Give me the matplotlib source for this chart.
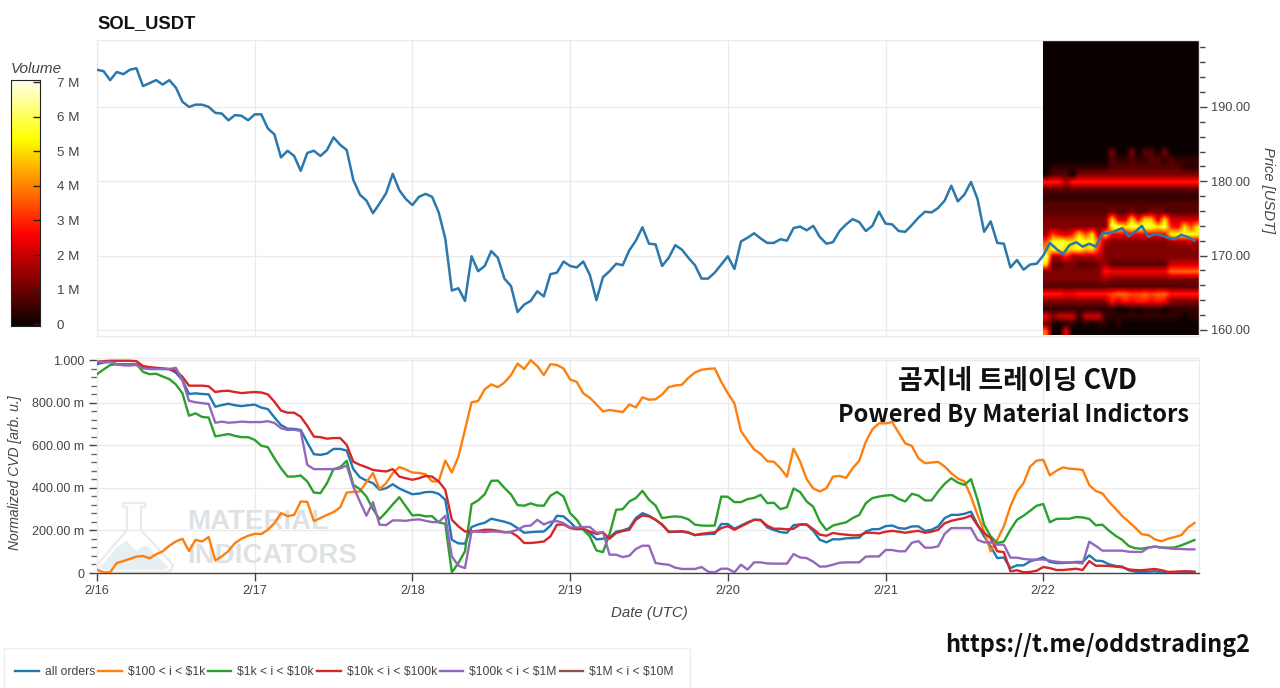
# plot.py - SOL_USDT price / volume heatmap and normalized CVD panels

import numpy as np
import matplotlib
matplotlib.use("Agg")
import matplotlib.pyplot as plt
from matplotlib.lines import Line2D
from matplotlib.patches import Polygon, Rectangle
from matplotlib.ticker import FixedLocator, FixedFormatter, MultipleLocator

plt.rcParams['font.family'] = ['Liberation Sans', 'DejaVu Sans']

W, H = 1280, 688

# hourly values, first one at 2/16 00:00 UTC
price = [
    195.0, 194.8, 193.6, 194.7, 194.4, 195.0, 195.2, 192.8, 193.2, 193.6, 193.0, 193.6,
    192.6, 190.7, 190.0, 190.3, 190.3, 190.0, 189.2, 189.1, 188.2, 188.9, 188.8, 188.2,
    189.0, 189.0, 187.1, 186.3, 183.2, 184.1, 183.4, 181.4, 183.8, 184.1, 183.4, 184.2,
    185.9, 184.9, 184.2, 180.2, 178.2, 177.4, 175.7, 177.0, 178.4, 181.0, 178.8, 177.6,
    176.8, 177.9, 178.3, 177.9, 175.8, 172.3, 165.3, 165.6, 163.9, 169.9, 167.9, 168.6,
    170.6, 169.7, 166.9, 165.9, 162.4, 163.4, 163.9, 165.2, 164.5, 167.5, 167.7, 169.2,
    168.6, 168.4, 169.2, 167.4, 164.0, 167.1, 167.9, 168.9, 168.7, 170.7, 172.0, 173.8,
    171.6, 171.5, 168.6, 169.7, 171.4, 170.8, 169.7, 168.7, 166.9, 166.9, 167.7, 168.8,
    169.9, 168.2, 171.9, 172.4, 173.0, 172.3, 171.7, 171.7, 172.2, 172.0, 173.7, 173.9,
    173.4, 174.0, 172.5, 171.6, 171.8, 173.3, 174.2, 174.9, 174.5, 173.3, 174.0, 175.9,
    174.3, 174.2, 173.3, 173.2, 174.1, 175.1, 175.9, 175.8, 176.4, 177.4, 179.4, 177.3,
    178.2, 179.9, 177.6, 173.2, 174.6, 171.7, 171.6, 168.4, 169.4, 168.1, 168.8, 168.9,
    170.0, 171.7, 170.9, 170.2, 171.4, 171.8, 171.2, 171.6, 171.2, 173.0, 173.0, 173.3,
    173.7, 172.6, 173.2, 174.0, 172.5, 172.9, 172.7, 172.4, 172.2, 172.8, 172.5, 172.0,
]

cvd_all = [
    .981, .989, .991, .980, .978, .980, .981, .966, .963, .961, .959, .958,
    .941, .906, .841, .844, .841, .839, .781, .789, .795, .788, .784, .788,
    .791, .777, .770, .731, .695, .678, .677, .672, .613, .558, .555, .561,
    .583, .583, .575, .488, .450, .434, .422, .391, .398, .417, .397, .383,
    .370, .373, .380, .381, .372, .344, .156, .139, .138, .216, .228, .236,
    .255, .248, .241, .231, .211, .189, .192, .194, .195, .222, .269, .266, .239,
    .208, .206, .188, .158, .161, .167, .194, .200, .211, .258, .281, .269,
    .250, .227, .195, .194, .194, .189, .178, .181, .183, .184, .230, .230,
    .208, .223, .238, .250, .250, .214, .202, .192, .189, .225, .228, .227,
    .198, .156, .144, .159, .158, .163, .164, .166, .195, .206, .206, .220,
    .223, .211, .208, .219, .219, .198, .203, .219, .258, .273, .273, .278,
    .288, .227, .172, .125, .070, .073, .023, .036, .036, .055, .063,
    .074, .052, .047, .047, .049, .052, .052, .083, .058, .056, .041, .033,
    .030, .013, .006, .005, .006, .008, .002, .002, .003, .005, .005, .006,
]

cvd_100_1k = [
    .016, .003, .003, .047, .056, .066, .077, .080, .069, .088, .102, .128,
    .148, .161, .103, .156, .148, .169, .059, .078, .103, .141, .161, .175,
    .184, .183, .203, .234, .281, .267, .273, .336, .334, .244, .258, .273,
    .286, .308, .378, .381, .383, .427, .469, .394, .422, .469, .498, .486,
    .472, .470, .464, .430, .430, .528, .472, .547, .672, .802, .808, .863,
    .886, .873, .895, .930, .984, .958, 1.00, .972, .930, .981, .977, .961, .909,
    .898, .844, .823, .792, .759, .766, .761, .756, .792, .778, .825, .814,
    .816, .839, .873, .881, .884, .917, .942, .955, .959, .961, .898, .844,
    .797, .667, .622, .581, .559, .525, .523, .492, .452, .584, .523, .441,
    .397, .383, .398, .453, .456, .447, .492, .528, .617, .675, .703, .703,
    .709, .659, .609, .597, .539, .516, .519, .522, .500, .469, .444, .430,
    .359, .273, .195, .102, .156, .219, .313, .383, .422, .500, .528,
    .532, .459, .480, .496, .490, .488, .484, .413, .385, .374, .335, .302,
    .268, .241, .213, .182, .178, .158, .149, .161, .169, .178, .213, .235,
]

cvd_1k_10k = [
    .934, .956, .977, .981, .981, .981, .981, .945, .934, .936, .923, .911,
    .886, .844, .739, .750, .733, .730, .642, .647, .653, .644, .638, .638,
    .625, .598, .591, .539, .492, .453, .453, .458, .430, .378, .375, .422,
    .488, .497, .527, .414, .394, .359, .300, .253, .286, .322, .356, .313,
    .270, .273, .266, .267, .238, .231, .003, .047, .102, .323, .341, .370,
    .433, .434, .400, .369, .319, .316, .327, .317, .316, .363, .381, .359, .281,
    .250, .203, .172, .106, .098, .183, .297, .300, .336, .352, .386, .344,
    .317, .258, .263, .266, .263, .252, .227, .223, .222, .223, .359, .358,
    .333, .333, .347, .353, .367, .328, .330, .300, .309, .397, .380, .336,
    .311, .242, .202, .223, .231, .238, .258, .273, .328, .352, .359, .364,
    .366, .348, .336, .372, .364, .341, .341, .383, .419, .445, .425, .414,
    .441, .344, .227, .172, .141, .148, .203, .250, .269, .292, .316,
    .324, .238, .254, .255, .255, .263, .261, .254, .224, .227, .199, .175,
    .156, .127, .116, .114, .120, .124, .120, .119, .120, .130, .142, .155,
]

cvd_10k_100k = [
    .992, .995, .997, .997, .997, .997, .995, .972, .967, .964, .961, .958,
    .950, .922, .880, .880, .880, .877, .850, .855, .856, .850, .845, .848,
    .850, .848, .839, .805, .763, .753, .753, .734, .691, .641, .638, .631,
    .634, .634, .602, .523, .508, .497, .484, .480, .477, .488, .453, .445,
    .438, .445, .456, .453, .430, .391, .250, .219, .195, .195, .198, .203,
    .203, .198, .192, .191, .172, .141, .141, .144, .148, .172, .227, .228, .211,
    .206, .208, .195, .183, .191, .161, .188, .197, .203, .250, .270, .266,
    .250, .227, .192, .194, .197, .191, .178, .184, .188, .191, .211, .220,
    .203, .219, .234, .250, .248, .222, .208, .208, .205, .208, .228, .228,
    .206, .180, .175, .188, .183, .180, .177, .177, .189, .189, .186, .194,
    .198, .194, .189, .194, .198, .189, .194, .203, .234, .245, .252, .258,
    .270, .223, .188, .164, .102, .098, .008, .013, .003, .005, .011,
    .028, .023, .014, .014, .017, .020, .014, .056, .034, .034, .033, .030,
    .027, .017, .014, .013, .016, .019, .013, .005, .006, .008, .008, .005,
]

cvd_100k_1m = [
    .992, .991, .992, .981, .975, .975, .977, .961, .958, .958, .958, .958,
    .964, .906, .809, .802, .798, .794, .706, .711, .706, .708, .711, .709,
    .709, .709, .713, .705, .680, .672, .673, .667, .508, .488, .488, .488,
    .488, .491, .505, .406, .336, .269, .333, .227, .225, .247, .247, .245,
    .250, .252, .245, .239, .239, .269, .078, .034, .023, .195, .194, .192,
    .195, .194, .191, .194, .203, .220, .223, .250, .228, .241, .244, .234, .214,
    .214, .216, .216, .189, .192, .086, .086, .075, .081, .113, .128, .128,
    .047, .042, .039, .025, .019, .019, .019, .028, .006, .003, .020, .020,
    .003, .039, .016, .050, .050, .045, .044, .044, .044, .089, .073, .070,
    .053, .030, .031, .039, .048, .050, .050, .050, .077, .078, .078, .108,
    .108, .102, .102, .142, .150, .119, .119, .125, .184, .211, .211, .211,
    .211, .156, .144, .144, .133, .133, .072, .072, .066, .063, .063,
    .064, .058, .053, .050, .050, .049, .045, .147, .127, .105, .105, .105,
    .105, .100, .099, .099, .119, .124, .119, .116, .113, .113, .111, .111,
]

# listed in the legend, no line shows in the panel
cvd_1m_10m = []

series_labels = ['all orders', r'\$100 < i < \$1k', r'\$1k < i < \$10k',
                 r'\$10k < i < \$100k', r'\$100k < i < \$1M', r'\$1M < i < \$10M']
series_colors = ['#1f77b4', '#ff7f0e', '#2ca02c', '#d62728', '#9467bd', '#8c564b']

day_labels = ['2/16', '2/17', '2/18', '2/19', '2/20', '2/21', '2/22']
price_ticks = [160, 170, 180, 190]
cvd_ticks = [0, 0.2, 0.4, 0.6, 0.8, 1.0]
cvd_tick_labels = ['0', '200.00 m', '400.00 m', '600.00 m', '800.00 m', '1.000']
volume_ticks = [0, 1, 2, 3, 4, 5, 6, 7]
volume_tick_labels = ['0', '1 M', '2 M', '3 M', '4 M', '5 M', '6 M', '7 M']

# volume per 1 USDT price bin and hour, last 24 h, hex digit = 0.42 M steps
# rows go from 199 down to 160
heat_rows = ["0000000000 000000000 00000"] * 14 + [
    "0000000000 000000000 00000",  # 185
    "0000000000 300302203 00000",
    "0000000000 211211221 21111",
    "0111111111 222222222 22111",
    "0222033333 333333333 33333",
    "7774777777 777777777 77777",  # 180
    "2222222222 222222222 22222",
    "1111111111 111111111 11111",
    "2222222222 222222222 22222",
    "2222222222 322322332 22222",
    "3333333333 c55c6cb5c 55555",  # 175
    "3333333333 eeceeeece 76c8c",
    "48657c8c4c 666666666 ddddd",
    "8dedcedd94 333333333 44454",
    "adeccdbc73 333333333 33333",
    "f447444453 333333333 33333",  # 170
    "c223322234 222222222 55555",
    "3333333337 666666666 99999",
    "3333333334 333333333 33333",
    "2222222222 222222222 22222",
    "7776677777 899889899 77777",  # 165
    "3333333333 757677676 33333",
    "1111111111 100101110 11111",
    "6355515551 111111111 11011",
    "3101101011 010000000 00000",
    "9006000000 000000000 00000",  # 160
]


def px(x, y):
    # pixel position in the image -> figure fraction
    return x / W, 1 - y / H


def axes_box(left, top, right, bottom):
    return [left / W, 1 - bottom / H, (right - left) / W, (bottom - top) / H]


def style_panel(ax):
    ax.set_xlim(0, 167.7)
    ax.set_xticks(np.arange(len(day_labels)) * 24)
    ax.grid(True, color='#ebebeb', lw=1.0)
    ax.set_axisbelow(True)
    for spine in ax.spines.values():
        spine.set_color('#ebebeb')
        spine.set_linewidth(1.0)


def draw_price(fig):
    ax = fig.add_axes(axes_box(97, 40, 1199, 336))
    style_panel(ax)

    volume = np.array([[int(c, 16) for c in r.replace(' ', '')] for r in heat_rows]) * 0.42
    ax.imshow(volume, cmap='hot', vmin=0, vmax=7.2, aspect='auto',
              extent=[144, 168, 159.3, 199.3], interpolation='bilinear', zorder=1.5)

    ax.plot(np.arange(len(price)), price, color='#2a78ae', lw=1.8, zorder=3)
    ax.set_xlim(0, 167.7)
    ax.set_ylim(159.18, 199.0)

    ax.tick_params(axis='x', length=0, labelbottom=False)
    ax.yaxis.tick_right()
    ax.yaxis.set_major_locator(FixedLocator(price_ticks))
    ax.yaxis.set_major_formatter(lambda v, pos: f'{v:.2f}')
    ax.yaxis.set_minor_locator(MultipleLocator(2))
    ax.tick_params(axis='y', which='major', length=6, width=1, color='#444444',
                   labelsize=9.2, labelcolor='#444444', pad=3)
    ax.tick_params(axis='y', which='minor', length=4, width=1, color='#444444')
    fig.text(*px(1268, 190), 'Price [USDT]', rotation=270, style='italic', fontsize=10.6,
             color='#444444', ha='center', va='center')
    fig.text(*px(97, 24), 'SOL_USDT', fontweight='bold', fontsize=13.2, color='#111111',
             ha='left', va='center')


def draw_watermark(ax, fig):
    t = fig.transFigure
    flask = [px(*p) for p in [(123, 503), (145, 503), (145, 507), (141, 507), (141, 530),
                              (173, 565), (171, 571), (165, 572), (105, 572), (99, 571),
                              (97, 565), (127, 530), (127, 507), (123, 507)]]
    liquid = [px(*p) for p in [(100, 567), (116, 548), (127, 541), (136, 551), (146, 545),
                               (168, 567), (164, 570), (105, 570)]]
    ax.add_patch(Polygon(liquid, closed=True, transform=t, fc='#e6eff1', ec='none',
                         clip_on=False, zorder=0.6))
    ax.add_patch(Polygon(flask, closed=True, transform=t, fc='none', ec='#eaeaea', lw=1.6,
                         clip_on=False, zorder=0.7))
    for label, y in [('MATERIAL', 522), ('INDICATORS', 556)]:
        ax.text(*px(187, y), label, transform=t, fontweight='bold', fontsize=20,
                color='#dfe2e4', ha='left', va='center', zorder=0.8)


def draw_cvd(fig):
    ax = fig.add_axes(axes_box(97, 358, 1199, 573))
    style_panel(ax)
    draw_watermark(ax, fig)

    all_series = [cvd_all, cvd_100_1k, cvd_1k_10k, cvd_10k_100k, cvd_100k_1m, cvd_1m_10m]
    for values, color, label in zip(all_series, series_colors, series_labels):
        ax.plot(np.arange(len(values)), values, color=color, lw=1.7, label=label, zorder=3)

    ax.set_xlim(0, 167.7)
    ax.set_ylim(0, 1.01)
    ax.spines['bottom'].set_color('#444444')
    ax.set_xticklabels(day_labels)
    ax.tick_params(axis='x', length=6, width=1, color='#444444', labelsize=9.2,
                   labelcolor='#444444', pad=3)
    ax.yaxis.set_major_locator(FixedLocator(cvd_ticks))
    ax.yaxis.set_major_formatter(FixedFormatter(cvd_tick_labels))
    ax.yaxis.set_minor_locator(MultipleLocator(0.04))
    ax.tick_params(axis='y', which='major', length=6, width=1, color='#444444',
                   labelsize=9, labelcolor='#444444', pad=3)
    ax.tick_params(axis='y', which='minor', length=4, width=1, color='#666666')

    fig.text(*px(15, 473), 'Normalized CVD [arb. u.]', rotation=90, style='italic',
             fontsize=10, color='#444444', ha='center', va='center')
    fig.text(*px(649, 613), 'Date (UTC)', style='italic', fontsize=10.8, color='#444444',
             ha='center', va='center')

    # box runs past the bottom edge of the picture
    fig.add_artist(Rectangle(px(4, 696), 686 / W, 48 / H, transform=fig.transFigure,
                             fc='white', ec='#eeeeee', lw=1))
    handles = [Line2D([], [], color=c, lw=1.7) for c in series_colors]
    fig.legend(handles, series_labels, ncol=6, frameon=False, loc='center left',
               bbox_to_anchor=px(15, 672), borderpad=0, borderaxespad=0, fontsize=8.7,
               handlelength=1.95, handletextpad=0.5, columnspacing=0.25,
               labelcolor='#444444')


def draw_volume_bar(fig):
    ax = fig.add_axes(axes_box(11, 80, 40, 326))
    gradient = np.linspace(0, 7.2, 256).reshape(-1, 1)
    ax.imshow(gradient, cmap='hot', vmin=0, vmax=7.2, aspect='auto', origin='lower',
              extent=[0, 1, -0.05, 7.2])
    ax.set_ylim(-0.05, 7.06)
    ax.set_xticks([])
    ax.yaxis.set_major_locator(FixedLocator(volume_ticks))
    ax.yaxis.set_major_formatter(FixedFormatter(volume_tick_labels))
    ax.yaxis.tick_right()
    ax.tick_params(axis='y', direction='in', length=5, width=1, color='#222222', labelsize=9.6,
                   labelcolor='#444444', pad=12)
    for spine in ax.spines.values():
        spine.set_color('#222222')
    fig.text(*px(11, 69), 'Volume', style='italic', fontsize=11, color='#444444',
             ha='left', va='center')


def draw_notes(fig):
    kr = ['Noto Sans CJK KR', 'DejaVu Sans']
    fig.text(*px(1017, 381), '곰지네 트레이딩 CVD', family=kr, fontweight='bold', fontsize=19.4,
             color='#111111', ha='center', va='center')
    fig.text(*px(1014, 415), 'Powered By Material Indictors', family=kr, fontweight='bold',
             fontsize=17, color='#111111', ha='center', va='center')
    fig.text(*px(1098, 645), 'https://t.me/oddstrading2', family=kr, fontweight='bold',
             fontsize=16.8, color='#111111', ha='center', va='center')


def main():
    fig = plt.figure(figsize=(W / 100, H / 100), dpi=100)
    draw_price(fig)
    draw_cvd(fig)
    draw_volume_bar(fig)
    draw_notes(fig)
    fig.savefig('out.png', dpi=100)


if __name__ == "__main__":
    main()
